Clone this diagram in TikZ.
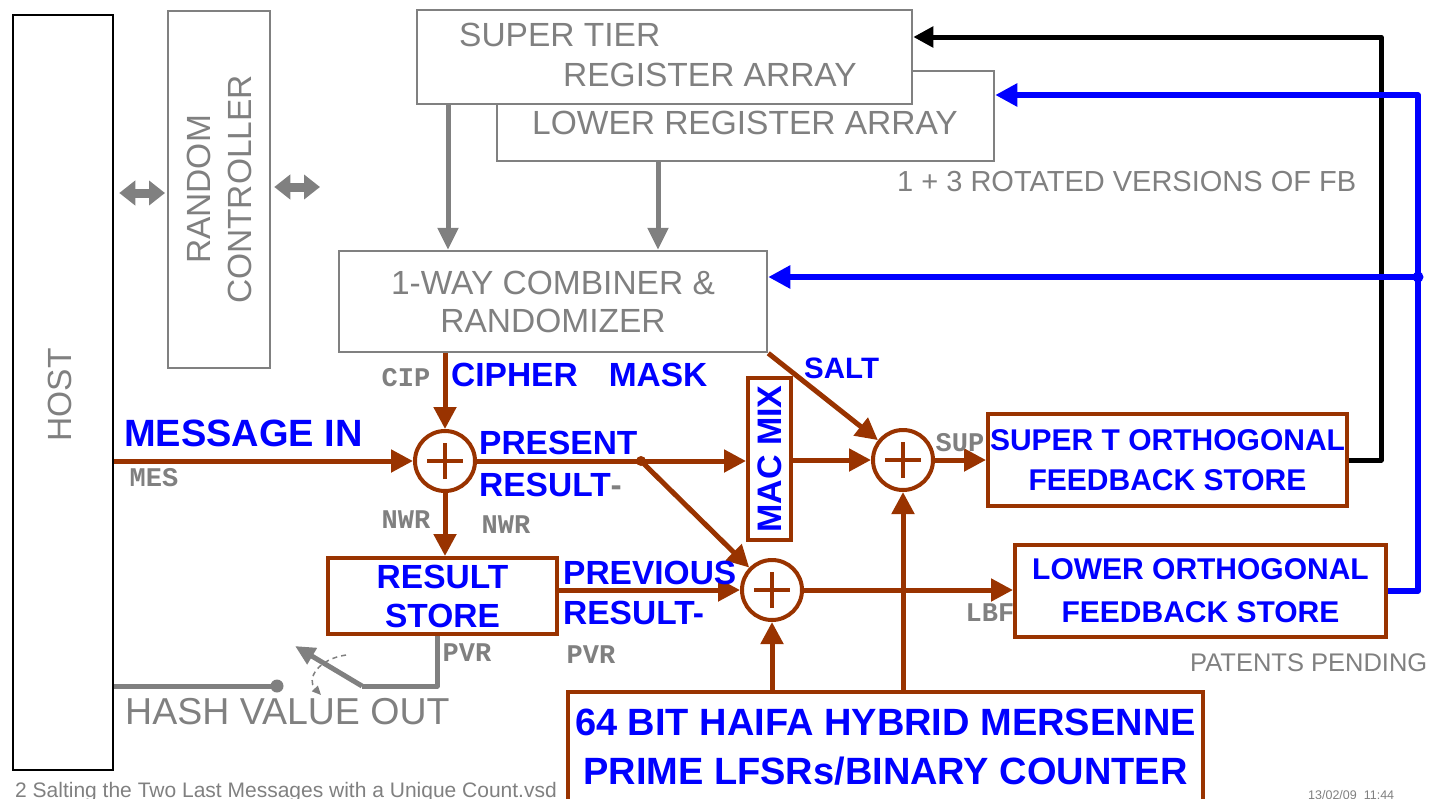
\documentclass[tikz,border=0pt]{standalone}
\usepackage{fontspec}
\setmainfont{Liberation Sans}
\newfontfamily\monofam{Liberation Mono}
\usetikzlibrary{arrows.meta,calc}
\definecolor{brownc}{HTML}{993300}
\definecolor{bluec}{HTML}{0000FF}
\definecolor{grayc}{HTML}{808080}
\newcommand\fsz[2]{\fontsize{#1}{#2}\selectfont}
\begin{document}
\begin{tikzpicture}[x=1pt,y=-1pt,
  gbox/.style={draw=grayc, line width=2.5pt, fill=white, inner sep=0pt, text=grayc},
  bbox/.style={draw=brownc, line width=4pt, fill=white, inner sep=0pt, text=bluec, align=center},
  gtext/.style={text=grayc, inner sep=0pt, font=\fsz{33.5}{38}},
  btext/.style={text=bluec, inner sep=0pt, font=\bfseries\fsz{33.5}{40}},
  mtext/.style={text=grayc, inner sep=0pt, font=\monofam\bfseries\fsz{27}{27}},
  flow/.style={draw=brownc, line width=5pt, -{Triangle[length=22pt,width=22pt]}},
  gflow/.style={draw=grayc, line width=5pt, -{Triangle[length=22pt,width=20pt]}},
  bflow/.style={draw=bluec, line width=5.5pt, -{Triangle[length=22pt,width=22pt]}},
  kflow/.style={draw=black, line width=5pt, -{Triangle[length=20pt,width=20pt]}},
  dbl/.style={draw=grayc, line width=9pt, {Triangle[length=16pt,width=24pt]}-{Triangle[length=16pt,width=24pt]}},
  xorc/.style={circle, draw=brownc, line width=4pt, fill=white, minimum size=60pt, inner sep=0pt,
    path picture={
      \draw[brownc, line width=4pt] ([xshift=-18pt]path picture bounding box.center) -- ([xshift=18pt]path picture bounding box.center);
      \draw[brownc, line width=4pt] ([yshift=-18pt]path picture bounding box.center) -- ([yshift=18pt]path picture bounding box.center);
    }},
]
\useasboundingbox (0,0) rectangle (1437,798);
\clip (0,0) rectangle (1437,798);

% left blocks
\node[draw=black, line width=2.5pt, minimum width=100pt, minimum height=755pt, inner sep=0pt] (host) at (63,392.5) {};
\node[gtext, rotate=90] (hosttxt) at (60,395) {HOST};
\node[gbox, rotate=90, minimum width=357pt, minimum height=102pt, align=center, font=\fsz{33.5}{41}] (rc) at (219,189.5) {RANDOM\\CONTROLLER};

% register arrays
\node[gbox, minimum width=497pt, minimum height=90pt] (lra) at (745.5,116) {};
\node[gtext] (lratxt) at (745,123) {LOWER REGISTER ARRAY};
\node[gbox, minimum width=495pt, minimum height=94pt] (st) at (664.5,57) {};
\node[gtext, anchor=west] (sttxt1) at (459,35) {SUPER TIER};
\node[gtext, anchor=west] (sttxt2) at (563,75) {REGISTER ARRAY};
\node[gtext, anchor=west, font=\fsz{29}{29}] (rotv) at (897,182) {1 + 3 ROTATED VERSIONS OF FB};

% combiner
\node[gbox, minimum width=428pt, minimum height=101pt, align=center, font=\fsz{33.5}{38}] (comb) at (553,301.5) {1-WAY COMBINER \&\\RANDOMIZER};

% brown boxes
\node[bbox, minimum width=43pt, minimum height=162pt] (mac) at (769.5,459) {};
\node[text=bluec, inner sep=0pt, font=\bfseries\fsz{34}{34}, rotate=90] (mactxt) at (770,459) {MAC MIX};
\node[bbox, minimum width=359pt, minimum height=92pt, font=\bfseries\fsz{30}{40}] (sup) at (1167.5,460) {SUPER T ORTHOGONAL\\FEEDBACK STORE};
\node[bbox, minimum width=371pt, minimum height=92pt, font=\bfseries\fsz{30}{43}] (low) at (1200.5,591) {LOWER ORTHOGONAL\\FEEDBACK STORE};
\node[bbox, minimum width=229pt, minimum height=76pt, font=\bfseries\fsz{33.5}{39}] (rs) at (442.5,596) {RESULT\\STORE};
\node[bbox, minimum width=635pt, minimum height=111pt, font=\bfseries\fsz{38}{49}] (big) at (885.5,747.5) {64 BIT HAIFA HYBRID MERSENNE\\PRIME LFSRs/BINARY COUNTER};

% xor nodes
\node[xorc] (xo1) at (445,461) {};
\node[xorc] (xo2) at (772,590) {};
\node[xorc] (xo3) at (903,460) {};

% coordinates
\coordinate (ga) at (448,0);
\coordinate (gb) at (658,0);
\coordinate (da) at (0,193);
\coordinate (dc) at (165,193);
\coordinate (db) at (320,187);
\coordinate (bk) at (1381,37);
\coordinate (bl) at (1418,95);
\coordinate (bd) at (1418,277);
\coordinate (j) at (641,461);
\coordinate (gc) at (437,0);
\coordinate (sw) at (362,686);
\coordinate (swtip) at (295,646);
\coordinate (hd) at (277,686);
\coordinate (sa) at (346,655);
\coordinate (sb) at (318,659);
\coordinate (sc) at (306,679);
\coordinate (sd) at (321,695);

% gray connectors
\draw[gflow] (st.south -| ga) -- (comb.north -| ga);
\draw[gflow] (lra.south -| gb) -- (comb.north -| gb);
\draw[dbl] ([xshift=5pt]host.east |- da) -- (dc);
\draw[dbl] ([xshift=3pt]rc.south |- db) -- (db);
\draw[grayc, line width=5pt, line join=round] (rs.south -| gc) -- (gc |- sw) -- (sw);
\draw[gflow, -{Triangle[length=20pt,width=18pt]}] (sw) -- (swtip);
\draw[grayc, line width=5pt] (host.east |- hd) -- (hd);
\fill[grayc] (hd) circle (6.5pt);
\draw[grayc, line width=1.5pt, dash pattern=on 5pt off 4pt, -{Triangle[length=9pt,width=8pt]}] (sa) .. controls (sb) and (sc) .. (sd);

% brown connectors
\draw[flow] (comb.south -| xo1.north) -- (xo1.north);
\draw[flow] (host.east |- xo1.west) -- (xo1.west);
\draw[flow] (xo1.south) -- (xo1.south |- rs.north);
\draw[flow] (xo1.east) -- (mac.west |- xo1.east);
\fill[brownc] (j) circle (5pt);
\draw[flow] (j) -- (xo2);
\draw[flow] (comb.south east) -- (xo3);
\draw[flow] (mac.east |- xo3.west) -- (xo3.west);
\draw[flow] (xo3.east) -- (sup.west |- xo3.east);
\draw[flow] (rs.east |- xo2.west) -- (xo2.west);
\draw[flow] (xo2.east) -- (low.west |- xo2.east);
\draw[flow] (xo2.south |- big.north) -- (xo2.south);
\draw[flow] (xo3.south |- big.north) -- (xo3.south);

% feedback
\draw[kflow, line join=round] (sup.east) -| (bk) -- (st.east |- bk);
\draw[bflow, line join=round] (low.east) -| (bl) -- (lra.east |- bl);
\draw[bflow] (bd) -- (comb.east |- bd);
\fill[bluec] (bd) circle (5.5pt);

% blue labels
\node[btext, anchor=west, font=\bfseries\fsz{38}{38}] (msgin) at (124,433) {MESSAGE IN};
\node[btext, anchor=west] (ciph) at (451,375) {CIPHER\hspace{31pt}MASK};
\node[btext, anchor=west, font=\bfseries\fsz{29.5}{29.5}] (salt) at (804,368) {SALT};
\node[btext, anchor=west] (pres1) at (479,443) {PRESENT};
\node[btext, anchor=west] (pres2) at (479,485) {RESULT\textcolor{grayc}{-}};
\node[btext, anchor=west] (prev1) at (563,573) {PREVIOUS};
\node[btext, anchor=west] (prev2) at (563,613) {RESULT-};

% mono labels
\node[mtext] (cip) at (406,378) {CIP};
\node[mtext] (mes) at (154,478) {MES};
\node[mtext] (nwr1) at (406,520) {NWR};
\node[mtext] (nwr2) at (506,525) {NWR};
\node[mtext] (suplab) at (960,443) {SUP};
\node[mtext] (lbf) at (990,613) {LBF};
\node[mtext] (pvr1) at (467,653) {PVR};
\node[mtext] (pvr2) at (591,655) {PVR};

% other gray texts
\node[gtext, anchor=west, font=\fsz{37.5}{37.5}] (hash) at (125,712) {HASH VALUE OUT};
\node[gtext, anchor=west, font=\fsz{25.5}{25.5}] (pat) at (1190,663) {PATENTS PENDING};
\node[anchor=base west, text=grayc, inner sep=0pt, font=\fsz{21}{21}] (fname) at (15,797) {2 Salting the Two Last Messages with a Unique Count.vsd};
\node[anchor=base west, text=grayc, inner sep=0pt, font=\fsz{12.5}{12.5}] (date) at (1308,799) {13/02/09\ \ 11:44};
\end{tikzpicture}
\end{document}
